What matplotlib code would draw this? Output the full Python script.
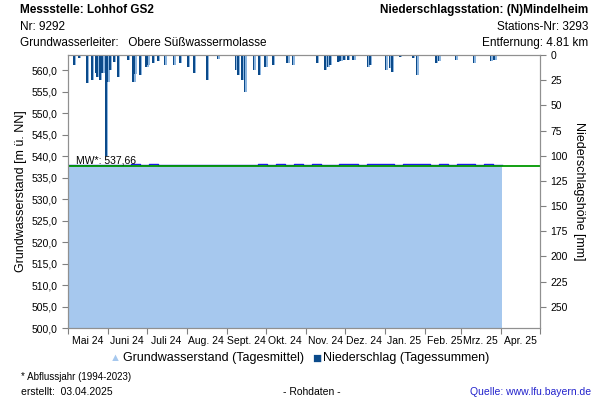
import numpy as np
import matplotlib.pyplot as plt
import matplotlib.dates as mdates
import datetime as dt

plt.rcParams['font.family'] = ['Liberation Sans', 'DejaVu Sans']

# Grundwasserstand, Wochenwerte ab 01.05.2024 (m ü. NN)
gw_start = dt.date(2024, 5, 1)
gw_werte = [538.0, 538.0, 538.0, 538.0, 538.0, 538.0, 538.0, 538.1, 538.0, 538.1,
            538.0, 538.0, 538.0, 538.0, 538.0, 538.0, 538.0, 537.9, 537.9, 538.0,
            537.9, 538.1, 537.9, 538.1, 537.9, 538.1, 538.0, 538.1, 538.0, 537.9,
            538.1, 538.1, 538.0, 538.1, 538.1, 538.1, 538.0, 538.1, 538.1, 538.1,
            538.0, 538.1, 538.0, 538.1, 538.1, 538.0, 538.1, 538.0, 538.0]
mw = 537.66

# Niederschlag: Tag nach 01.05.2024, Tagessumme mm
ns_tage = [4, 8, 14, 18, 21, 22, 24, 26, 29, 30, 32, 35, 38, 46, 50, 51, 55, 60, 61,
           65, 69, 74, 81, 86, 92, 97, 107, 115, 129, 131, 134, 136, 143, 147, 152,
           158, 169, 173, 192, 198, 200, 202, 208, 210, 213, 216, 220, 231, 233,
           245, 248, 250, 256, 266, 269, 284, 286, 299, 313, 326, 329]
ns_mm = [10, 3, 28, 25, 18, 22, 25, 18, 100, 27, 15, 7, 22, 5, 27, 19, 20, 12, 10,
         8, 6, 10, 10, 8, 12, 18, 25, 4, 15, 20, 25, 37, 15, 20, 12,
         10, 8, 10, 8, 15, 12, 10, 7, 6, 5, 5, 5, 12, 10,
         15, 13, 17, 2, 3, 20, 8, 6, 5, 8, 6, 5]

monate = ['Mai 24', 'Juni 24', 'Juli 24', 'Aug. 24', 'Sept. 24', 'Okt. 24',
          'Nov. 24', 'Dez. 24', 'Jan. 25', 'Feb. 25', 'Mrz. 25', 'Apr. 25']

gw_datum = [gw_start + dt.timedelta(days=7 * i) for i in range(len(gw_werte))]
gw_datum.append(dt.date(2025, 4, 2))
gw_y = gw_werte + [gw_werte[-1]]
ns_datum = [mdates.date2num(gw_start) + t for t in ns_tage]
ns_schatten = [d + 1.2 for d in ns_datum]

fig = plt.figure(figsize=(6, 4), dpi=100)
ax = fig.add_axes([0.113, 0.18, 0.787, 0.6825])
ax2 = ax.twinx()

ax.fill_between(gw_datum, 500, gw_y, step='post', color='#A6C8EE', lw=0)
ax.step(gw_datum, gw_y, where='post', color='#1A1AE6', lw=1.0)
ax.axhline(mw, color='#009900', lw=1.3)
ax.text(mdates.date2num(dt.date(2024, 5, 7)), mw + 0.6, 'MW*: 537,66', fontsize=7.5)

ax2.bar(ns_schatten, ns_mm, width=1.2, align='edge', color='#8DB6E0')
ax2.bar(ns_datum, ns_mm, width=1.3, align='edge', color='#0B4A8A')

ax.set_ylim(500, 563.5)
ax.set_yticks(np.arange(500, 561, 5))
ax.set_yticklabels([f'{v:.1f}'.replace('.', ',') for v in np.arange(500, 561, 5)])
ax2.set_ylim(271, 0)
ax2.set_yticks(np.arange(0, 251, 25))

x0 = mdates.date2num(dt.date(2024, 5, 1))
x1 = mdates.date2num(dt.date(2025, 5, 1))
ax.set_xlim(x0, x1)
monatsanfang = [dt.date(2024 + (4 + i) // 12, (4 + i) % 12 + 1, 1) for i in range(13)]
ax.set_xticks(mdates.date2num(monatsanfang))
ax.set_xticklabels([])
mitte = [mdates.date2num(monatsanfang[i]) + 15 for i in range(12)]
ax.set_xticks(mitte, minor=True)
ax.set_xticklabels(monate, minor=True, fontsize=7.5)
ax.tick_params(axis='x', which='minor', length=0, pad=6)
ax.tick_params(axis='x', which='major', length=4, color='#808080')

for a in (ax, ax2):
    for s in a.spines.values():
        s.set_color('#909090')
    a.tick_params(axis='y', labelsize=7.5, length=4, color='#808080')

ax.set_ylabel('Grundwasserstand [m ü. NN]', fontsize=9, labelpad=3)
ax2.set_ylabel('Niederschlagshöhe [mm]', fontsize=9, rotation=-90, labelpad=12)

# Kopf
fig.text(0.033, 0.99, 'Messstelle: Lohhof GS2', fontsize=8.5, weight='bold', va='top')
fig.text(0.033, 0.948, 'Nr: 9292', fontsize=8.5, va='top')
fig.text(0.033, 0.908, 'Grundwasserleiter:   Obere Süßwassermolasse', fontsize=8.5, va='top')
fig.text(0.98, 0.99, 'Niederschlagsstation: (N)Mindelheim', fontsize=8.5, weight='bold',
         va='top', ha='right')
fig.text(0.98, 0.948, 'Stations-Nr: 3293', fontsize=8.5, va='top', ha='right')
fig.text(0.98, 0.908, 'Entfernung: 4.81 km', fontsize=8.5, va='top', ha='right')

# Legende
fig.text(0.183, 0.104, '\u25B2', color='#A6C8EE', fontsize=8, va='center')
fig.text(0.205, 0.104, 'Grundwasserstand (Tagesmittel)', fontsize=9, va='center')
fig.text(0.52, 0.104, '\u25A0', color='#0B4A8A', fontsize=11, va='center')
fig.text(0.539, 0.104, 'Niederschlag (Tagessummen)', fontsize=9, va='center')

# Fuss
fig.text(0.035, 0.058, '* Abflussjahr (1994-2023)', fontsize=7, va='center')
fig.text(0.035, 0.02, 'erstellt:  03.04.2025', fontsize=7.5, va='center')
fig.text(0.52, 0.02, '- Rohdaten -', fontsize=7.5, va='center', ha='center')
fig.text(0.985, 0.02, 'Quelle: www.lfu.bayern.de', fontsize=7.5, va='center', ha='right',
         color='#2222CC')

fig.savefig('out.png', dpi=100)
